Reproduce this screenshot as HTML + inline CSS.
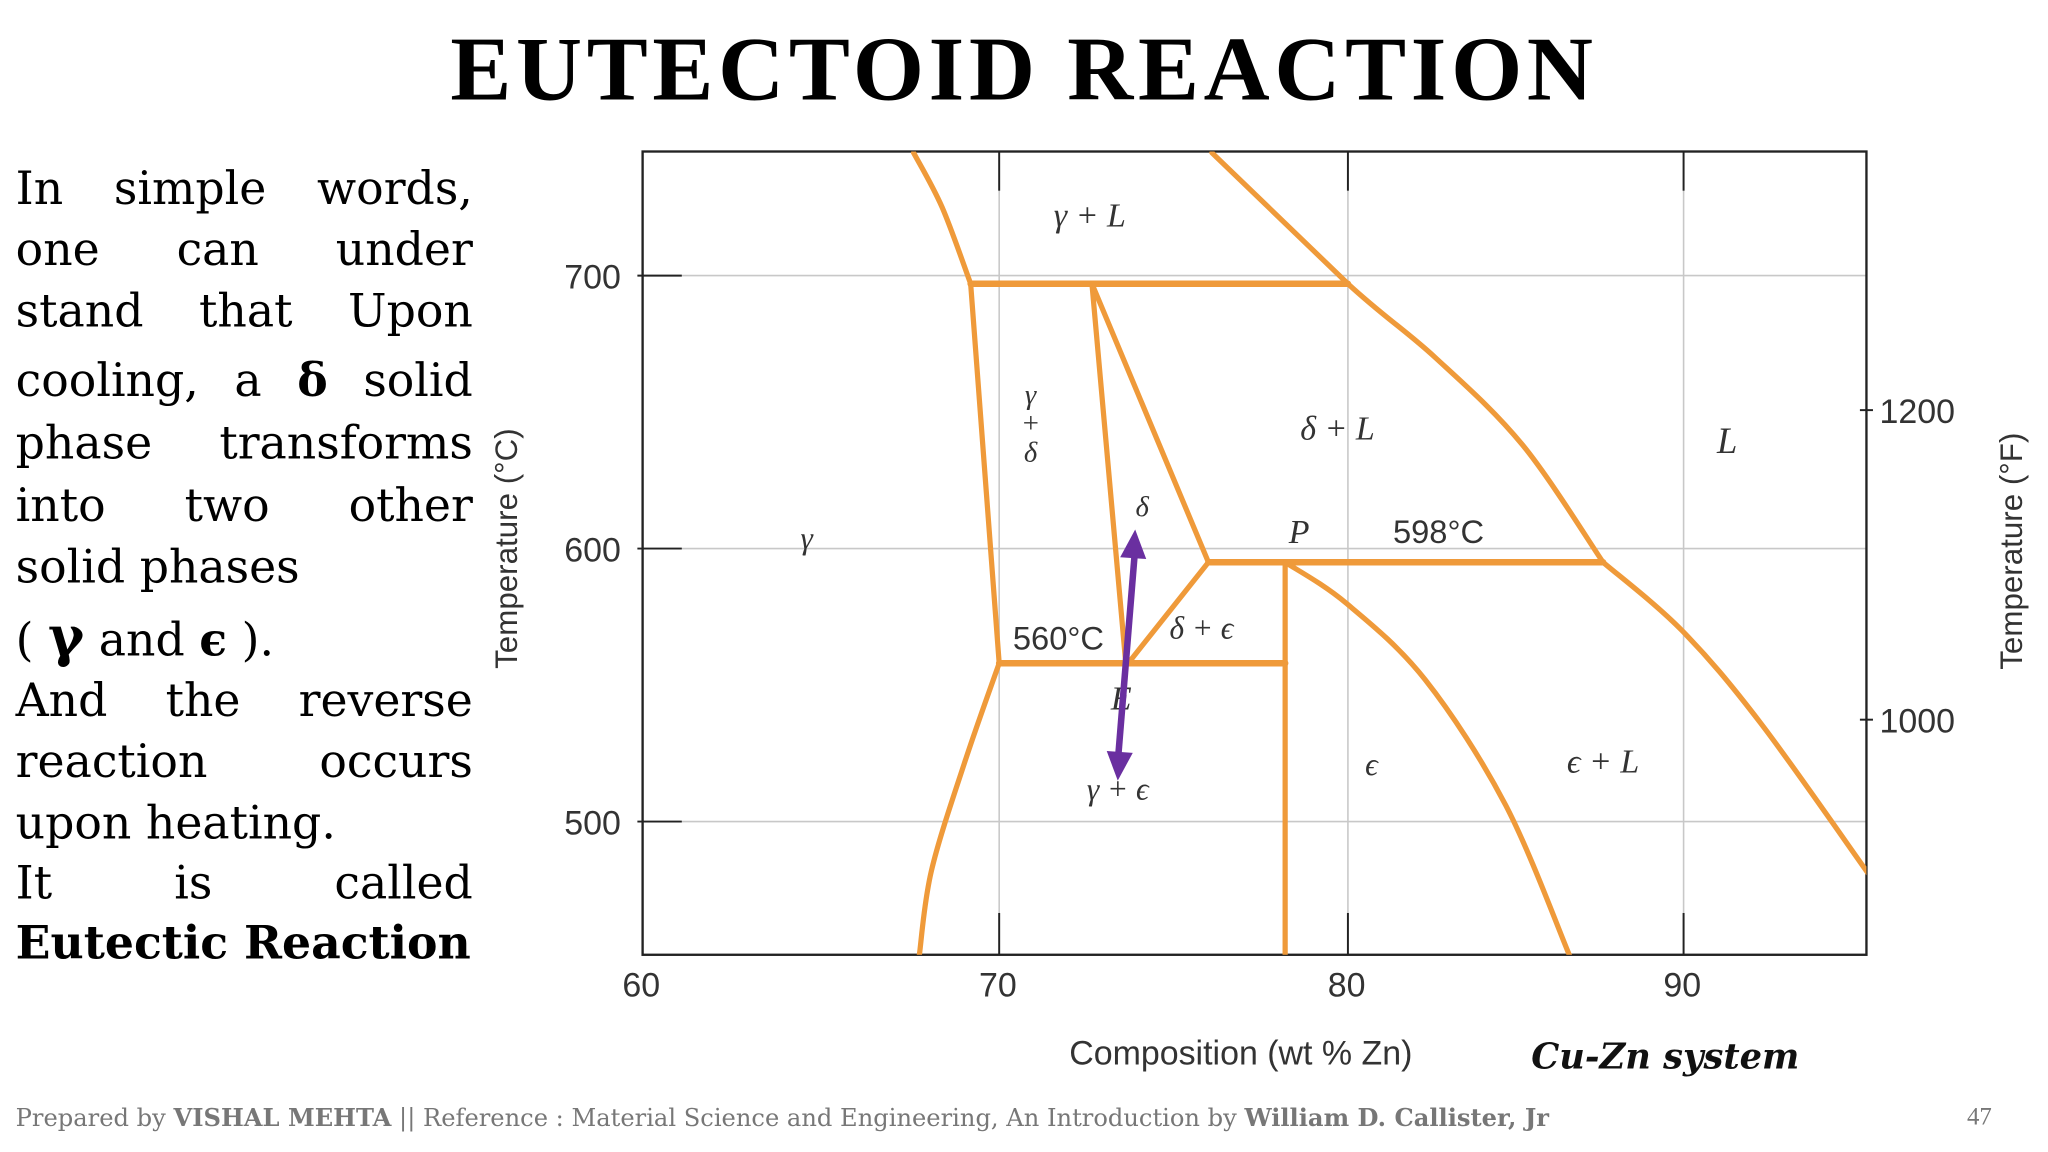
<!DOCTYPE html>
<html><head><meta charset="utf-8">
<style>
html,body{margin:0;padding:0;background:#fff;overflow:hidden}
#wrap{position:absolute;left:0;top:0;width:1568px;height:882px;transform:scale(1.30612);transform-origin:0 0;font-family:"Liberation Serif",serif}
#title{position:absolute;left:0;width:1568px;top:14px;text-align:center;font-weight:bold;font-size:70px;letter-spacing:3.6px}
.ln{position:absolute;left:12px;width:350px;font-family:"DejaVu Serif",serif;font-size:35px;line-height:44px;white-space:nowrap}
.j{text-align:justify;text-align-last:justify}
#foot{position:absolute;left:12px;top:846px;font-family:"DejaVu Serif",serif;font-size:18.5px;color:#777;white-space:nowrap}
#pg{position:absolute;left:1506px;top:845px;font-size:19px;color:#777}
svg{position:absolute;left:0;top:0}
</style></head><body>
<div id="wrap">
<div id="title">EUTECTOID REACTION</div>
<div>
<div class="ln j" style="top:123px">In simple words,</div>
<div class="ln j" style="top:170px">one can under</div>
<div class="ln j" style="top:217px">stand that Upon</div>
<div class="ln j" style="top:270px">cooling, a <b>δ</b> solid</div>
<div class="ln j" style="top:318px">phase transforms</div>
<div class="ln j" style="top:366px">into two other</div>
<div class="ln" style="top:413px">solid phases</div>
<div class="ln" style="top:466px">( <b style="font-size:42px">γ</b> and <b>ϵ</b> ).</div>
<div class="ln j" style="top:515px">And the reverse</div>
<div class="ln j" style="top:562px">reaction occurs</div>
<div class="ln" style="top:609px">upon heating.</div>
<div class="ln j" style="top:655px">It is called</div>
<div class="ln" style="top:701px;font-weight:bold">Eutectic Reaction</div>
</div>
<div id="foot">Prepared by <b>VISHAL MEHTA</b> || Reference : Material Science and Engineering, An Introduction by <b>William D. Callister, Jr</b></div>
<div id="pg">47</div>
<svg id="chart" width="1568" height="882" viewBox="0 0 1568 882"></svg>
</div>
<script>
// ---- data ----
const xTicks = [60, 70, 80, 90];
const yTicks = [500, 600, 700];
const fTicks = [1000, 1200];
const gammaLiquidus = [[67.6,745],[68.4,725],[69.2,697]];
const liquidus = [[76.1,745],[80.0,697],[82.6,670],[85.2,638],[87.6,595]];
const epsLiquidus = [[87.6,595],[89.95,570],[92.3,536],[95.5,481]];
const peritecticTop = [[69.2,697],[80.0,697]];
const gammaSolvus = [[69.2,697],[70.0,558]];
const deltaLeft = [[72.66,697],[73.63,558]];
const deltaRight = [[72.66,697],[76.0,595]];
const deltaEps = [[76.0,595],[73.7,558]];
const peritectic598 = [[76.0,595],[87.6,595]];
const eutectoid560 = [[70.0,558],[78.2,558]];
const epsVertical = [[78.2,595],[78.2,451]];
const epsSolvus = [[78.2,595],[79.95,580],[82.3,552],[84.7,506],[86.6,451]];
const gammaLower = [[70.0,558],[69.04,522],[68.1,482],[67.76,451]];
const arrowPts = [[73.9,607],[73.4,515]];
const labels = [["γ + L",72.6,718,26,true],["γ",64.6,600,24,true],["δ + L",79.7,640,26,true],["L",91.3,635,28,true],
 ["δ",74.1,612,22,true],["P",78.6,602,26,true],["598°C",82.7,602,25,false],["560°C",71.7,563,25,false],
 ["δ + ϵ",75.8,567,24,true],["E",73.5,541,26,true],["ϵ",80.7,517,24,true],["ϵ + L",87.6,518,26,true],["γ + ϵ",73.4,508,24,true]];
// ---- axes ----
const xPx = [492, 765, 1032, 1289];
function X(v){
  let i = v < 70 ? 0 : (v < 80 ? 1 : 2);
  return xPx[i] + (v - xTicks[i]) * (xPx[i+1] - xPx[i]) / (xTicks[i+1] - xTicks[i]);
}
function Y(t){ return 420 - (t - 600) * 2.09; }
function YF(f){ return 551 - (f - 1000) * 1.185; }
const L=492,R=1429,T=116,B=731;
const svg=document.getElementById('chart');
const NS='http://www.w3.org/2000/svg';
function mk(tag,attrs,parent){const e=document.createElementNS(NS,tag);for(const k in attrs)e.setAttribute(k,attrs[k]);(parent||svg).appendChild(e);return e;}
function txt(s,x,y,size,extra){const e=mk('text',Object.assign({x:x,y:y,'font-size':size,'font-family':'Liberation Sans, sans-serif',fill:'#333'},extra||{}));e.textContent=s;return e;}
// grid
xTicks.slice(1).forEach(v=>{
  const g=mk('line',{x1:X(v),x2:X(v),y1:T,y2:B,stroke:'#c8c8c8','stroke-width':1.2});
  
  
  mk('line',{x1:X(v),x2:X(v),y1:B,y2:B-32,stroke:'#222','stroke-width':1.5});
  mk('line',{x1:X(v),x2:X(v),y1:T,y2:T+30,stroke:'#222','stroke-width':1.5});
});
yTicks.forEach(v=>{
  const g=mk('line',{x1:L,x2:R,y1:Y(v),y2:Y(v),stroke:'#c8c8c8','stroke-width':1.2});
  
  
  mk('line',{x1:488,x2:522,y1:Y(v),y2:Y(v),stroke:'#222','stroke-width':1.5});
  const t=txt(String(v),432,Y(v)+10,26);
  
  
});
xTicks.forEach(v=>{
  const t=txt(String(v),X(v)-1,763,26,{'text-anchor':'middle'});
  
  
});
fTicks.forEach(v=>{
  mk('line',{x1:1424,x2:1434,y1:YF(v),y2:YF(v),stroke:'#222','stroke-width':1.5});
  const t=txt(String(v),1439,YF(v)+10,26);
  
  
});
const fr=mk('rect',{x:L,y:T,width:R-L,height:B-T,fill:'none',stroke:'#222','stroke-width':1.8});


let a=txt('Composition (wt % Zn)',950,815,26,{'text-anchor':'middle'});

a=txt('Temperature (°C)',0,0,24,{'text-anchor':'middle',transform:'translate(396,420) rotate(-90)'});

a=txt('Temperature (°F)',0,0,24,{'text-anchor':'middle',transform:'translate(1548,422) rotate(-90)'});

a=mk('text',{x:1275,y:818,'font-size':27,'font-family':'DejaVu Serif, serif','font-weight':'bold','font-style':'italic','text-anchor':'middle',fill:'#111'});
a.textContent='Cu-Zn system';

// phase boundaries
const curves={gammaLiquidus,liquidus,epsLiquidus,peritecticTop,gammaSolvus,deltaLeft,deltaRight,deltaEps,peritectic598,eutectoid560,epsVertical,epsSolvus,gammaLower};
const cp=mk('clipPath',{id:'cp'});mk('rect',{x:L,y:T,width:R-L,height:B-T},cp);
for(const k in curves){
  const pts=curves[k];
  let d='M'+X(pts[0][0])+','+Y(pts[0][1]);
  if(pts.length>2 && k!=='liquidus'){
    for(let i=1;i<pts.length;i++){
      const p0=pts[Math.max(i-2,0)],p1=pts[i-1],p2=pts[i],p3=pts[Math.min(i+1,pts.length-1)];
      const c1x=X(p1[0])+(X(p2[0])-X(p0[0]))/6,c1y=Y(p1[1])+(Y(p2[1])-Y(p0[1]))/6;
      const c2x=X(p2[0])-(X(p3[0])-X(p1[0]))/6,c2y=Y(p2[1])-(Y(p3[1])-Y(p1[1]))/6;
      d+=' C'+c1x+','+c1y+' '+c2x+','+c2y+' '+X(p2[0])+','+Y(p2[1]);
    }
  } else if(k==='liquidus'){
    d+=' L'+X(pts[1][0])+','+Y(pts[1][1]);
    for(let i=2;i<pts.length;i++){
      const p0=pts[i-2],p1=pts[i-1],p2=pts[i],p3=pts[Math.min(i+1,pts.length-1)];
      const c1x=X(p1[0])+(X(p2[0])-X(p0[0]))/6,c1y=Y(p1[1])+(Y(p2[1])-Y(p0[1]))/6;
      const c2x=X(p2[0])-(X(p3[0])-X(p1[0]))/6,c2y=Y(p2[1])-(Y(p3[1])-Y(p1[1]))/6;
      d+=' C'+c1x+','+c1y+' '+c2x+','+c2y+' '+X(p2[0])+','+Y(p2[1]);
    }
  } else d+=' L'+X(pts[1][0])+','+Y(pts[1][1]);
  const w=(k==='peritecticTop'||k==='peritectic598'||k==='eutectoid560')?5:4;
  const p=mk('path',{d:d,fill:'none',stroke:'#ef9a3a','stroke-width':w,'clip-path':'url(#cp)','stroke-linecap':'round','stroke-linejoin':'round'});
  
  
}
// labels
labels.forEach(l=>{
  const e=mk('text',{x:X(l[1]),y:Y(l[2]),'font-size':l[3],'text-anchor':'middle',fill:'#333','font-family':l[4]?'Liberation Serif, serif':'Liberation Sans, sans-serif','font-style':l[4]?'italic':'normal'});
  e.textContent=l[0];
  
  
});
['γ','+','δ'].forEach((s,i)=>{
  const e=mk('text',{x:X(70.9),y:Y(653)+i*22,'font-size':22,'text-anchor':'middle',fill:'#333','font-family':'Liberation Serif, serif','font-style':'italic'});
  e.textContent=s;
  
  
});
// arrow
const ax1=X(arrowPts[0][0]),ay1=Y(arrowPts[0][1]),ax2=X(arrowPts[1][0]),ay2=Y(arrowPts[1][1]);
const ar=mk('line',{x1:ax1,y1:ay1+14,x2:ax2,y2:ay2-14,stroke:'#6a2fa0','stroke-width':5});


function head(xa,ya,xb,yb){const dx=xb-xa,dy=yb-ya,len=Math.hypot(dx,dy),ux=dx/len,uy=dy/len;
  const bx=xb-ux*22,by=yb-uy*22;mk('polygon',{points:xb+','+yb+' '+(bx-uy*10)+','+(by+ux*10)+' '+(bx+uy*10)+','+(by-ux*10),fill:'#6a2fa0'});}
head(ax2,ay2,ax1,ay1);head(ax1,ay1,ax2,ay2);
</script>
</body></html>
